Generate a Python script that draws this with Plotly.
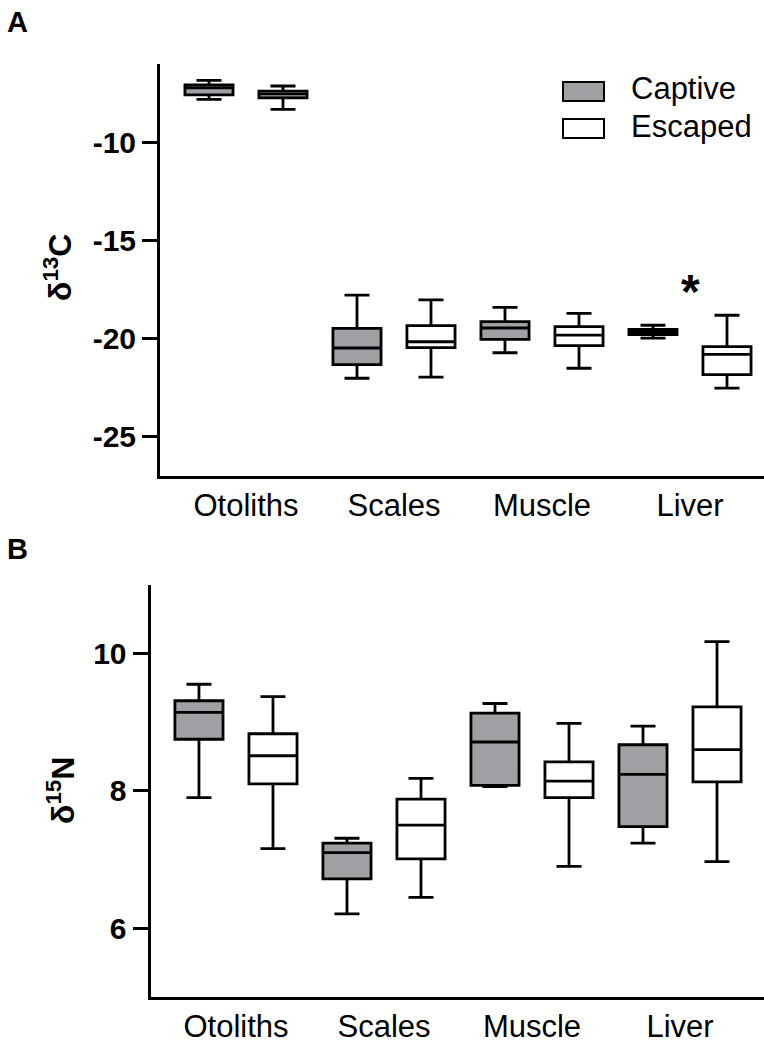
import plotly.graph_objects as go

# ---------------- data ----------------
tissues = ["Otoliths", "Scales", "Muscle", "Liver"]

# Panel A: d13C  (lowerfence, q1, median, q3, upperfence)
c13_captive_low = [-7.81, -22.02, -20.72, -19.98]
c13_captive_q1 = [-7.58, -21.33, -20.04, -19.80]
c13_captive_med = [-7.23, -20.48, -19.46, -19.66]
c13_captive_q3 = [-7.07, -19.48, -19.14, -19.53]
c13_captive_high = [-6.84, -17.79, -18.41, -19.32]

c13_escaped_low = [-8.32, -21.96, -21.51, -22.52]
c13_escaped_q1 = [-7.73, -20.46, -20.36, -21.84]
c13_escaped_med = [-7.55, -20.16, -19.82, -20.80]
c13_escaped_q3 = [-7.39, -19.34, -19.39, -20.41]
c13_escaped_high = [-7.13, -18.03, -18.71, -18.81]

# Panel B: d15N
n15_captive_low = [7.90, 6.21, 8.06, 7.24]
n15_captive_q1 = [8.75, 6.72, 8.08, 7.48]
n15_captive_med = [9.14, 7.10, 8.71, 8.24]
n15_captive_q3 = [9.31, 7.24, 9.13, 8.67]
n15_captive_high = [9.55, 7.31, 9.27, 8.94]

n15_escaped_low = [7.16, 6.45, 6.90, 6.97]
n15_escaped_q1 = [8.10, 7.01, 7.90, 8.13]
n15_escaped_med = [8.51, 7.50, 8.14, 8.60]
n15_escaped_q3 = [8.83, 7.88, 8.42, 9.22]
n15_escaped_high = [9.37, 8.18, 8.98, 10.17]

groups = ["Captive", "Escaped"]
c13_ticks = [-25, -20, -15, -10]
n15_ticks = [6, 8, 10]
significant = ["Liver"]  # asterisk in panel A

# ---------------- styling ----------------
W, H = 764, 1043
FONT = "Arial, Liberation Sans, sans-serif"
CAPTIVE_FILL = "rgb(160,159,164)"
ESCAPED_FILL = "white"
LW = 2.8

cap_pos = [2 * i for i in range(len(tissues))]
esc_pos = [2 * i + 1 for i in range(len(tissues))]
tick_pos = [2 * i + 0.5 for i in range(len(tissues))]


def px_x(p):
    return p / W


def px_y(p):
    return 1 - p / H


fig = go.Figure()


def add_boxes(xa, ya, low, q1, med, q3, high, pos, fill, name):
    fig.add_trace(go.Box(
        x=pos, lowerfence=low, q1=q1, median=med, q3=q3, upperfence=high,
        width=0.65, whiskerwidth=0.52, fillcolor=fill,
        line=dict(color="black", width=LW), name=name, showlegend=False,
        boxpoints=False, xaxis=xa, yaxis=ya, hoverinfo="skip",
    ))


add_boxes("x", "y", c13_captive_low, c13_captive_q1, c13_captive_med, c13_captive_q3,
          c13_captive_high, cap_pos, CAPTIVE_FILL, groups[0])
add_boxes("x", "y", c13_escaped_low, c13_escaped_q1, c13_escaped_med, c13_escaped_q3,
          c13_escaped_high, esc_pos, ESCAPED_FILL, groups[1])
add_boxes("x2", "y2", n15_captive_low, n15_captive_q1, n15_captive_med, n15_captive_q3,
          n15_captive_high, cap_pos, CAPTIVE_FILL, groups[0])
add_boxes("x2", "y2", n15_escaped_low, n15_escaped_q1, n15_escaped_med, n15_escaped_q3,
          n15_escaped_high, esc_pos, ESCAPED_FILL, groups[1])

xcommon = dict(
    tickvals=tick_pos, ticktext=tissues, ticks="", showline=True, linewidth=3,
    linecolor="black", showgrid=False, zeroline=False,
    tickfont=dict(family=FONT, size=31, color="black"),
)
ycommon = dict(
    ticks="outside", ticklen=15, tickwidth=3, tickcolor="black", showline=True,
    linewidth=3, linecolor="black", showgrid=False, zeroline=False,
    tickfont=dict(family=FONT, size=30, color="black", weight="bold"),
)

fig.update_layout(
    width=W, height=H, margin=dict(l=0, r=0, t=0, b=0),
    paper_bgcolor="white", plot_bgcolor="white", showlegend=False,
    xaxis=dict(domain=[px_x(160), 1], range=[-0.662, 7.5], anchor="y", **xcommon),
    yaxis=dict(domain=[px_y(476), px_y(63.8)], range=[-27, -6], anchor="x",
               tickvals=c13_ticks, ticktext=[str(v) for v in c13_ticks], **ycommon),
    xaxis2=dict(domain=[px_x(150.5), 1], range=[-0.655, 7.635], anchor="y2", **xcommon),
    yaxis2=dict(domain=[px_y(997), px_y(584.6)], range=[5, 11], anchor="x2",
                tickvals=n15_ticks, ticktext=[str(v) for v in n15_ticks], **ycommon),
)

ann = []
center = dict(xanchor="center", yanchor="middle", showarrow=False,
              xref="paper", yref="paper")
# panel letters
ann.append(dict(text="<b>A</b>", x=px_x(17), y=px_y(22),
                font=dict(family=FONT, size=29, color="black"), **center))
ann.append(dict(text="<b>B</b>", x=px_x(17), y=px_y(549),
                font=dict(family=FONT, size=29, color="black"), **center))
# y titles
ann.append(dict(text="<b>δ<sup>13</sup>C</b>", x=px_x(58), y=px_y(268), textangle=-90,
                font=dict(family=FONT, size=32, color="black"), **center))
ann.append(dict(text="<b>δ<sup>15</sup>N</b>", x=px_x(61), y=px_y(791), textangle=-90,
                font=dict(family=FONT, size=32, color="black"), **center))
# asterisk
for t in significant:
    i = tissues.index(t)
    ann.append(dict(text="<b>*</b>", x=tick_pos[i], y=-17.6, xref="x", yref="y",
                    showarrow=False, xanchor="center", yanchor="middle",
                    font=dict(family=FONT, size=48, color="black")))

# legend (drawn manually)
shapes = []
legend_rows = [(groups[0], CAPTIVE_FILL, 82, 101, 89), (groups[1], ESCAPED_FILL, 119, 138, 126)]
for name, fill, top, bot, cy in legend_rows:
    shapes.append(dict(type="rect", xref="paper", yref="paper",
                       x0=px_x(563), x1=px_x(604), y0=px_y(bot), y1=px_y(top),
                       fillcolor=fill, line=dict(color="black", width=2)))
    ann.append(dict(text=name, x=px_x(629), y=px_y(cy), xref="paper", yref="paper",
                    xanchor="left", yanchor="middle", showarrow=False,
                    font=dict(family=FONT, size=31, color="black")))

fig.update_layout(annotations=ann, shapes=shapes)
fig.write_html("out.html", config={"displayModeBar": False},
               post_script="document.body.style.margin='0px';document.body.style.overflow='hidden';")
